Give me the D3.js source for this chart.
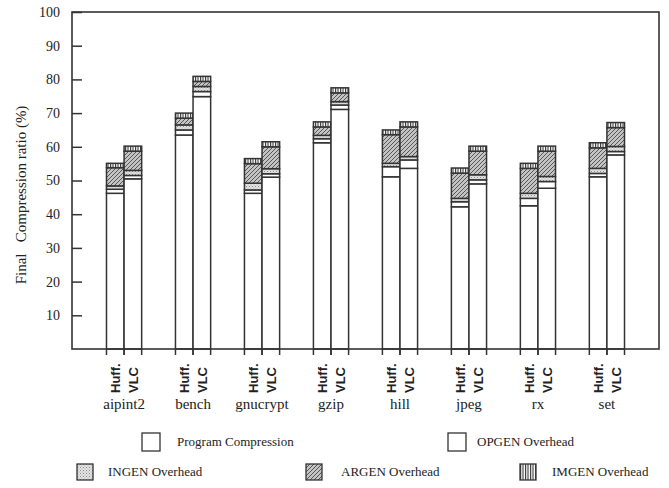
<!DOCTYPE html>
<html>
<head>
<meta charset="utf-8">
<script src="https://cdn.jsdelivr.net/npm/d3@7"></script>
<style>
  body { margin: 0; background: #fff; }
  svg { display: block; }
  text { font-family: "Liberation Serif", "DejaVu Serif", serif; fill: #222; }
</style>
</head>
<body>
<div id="chart"></div>
<script>
// benchmarks and encodings
var benchmarks = ['aipint2', 'bench', 'gnucrypt', 'gzip', 'hill', 'jpeg', 'rx', 'set'];
var encodings = ['Huff.', 'VLC'];

// segment values (%), one entry per benchmark, [Huff., VLC]
var program = [[46.2, 50.5], [63.5, 74.9], [46.2, 51.0], [61.2, 71.1], [51.1, 53.6], [42.2, 49.0], [42.5, 47.7], [51.1, 57.6]];
var opgen   = [[1.2, 1.0], [1.5, 1.5], [1.0, 1.0], [1.2, 1.3], [3.0, 2.5], [1.5, 1.2], [2.2, 2.0], [1.0, 1.0]];
var ingen   = [[1.0, 1.5], [1.5, 1.5], [2.0, 1.5], [1.0, 1.0], [1.0, 1.0], [1.0, 1.5], [1.5, 1.5], [1.5, 1.5]];
var argen   = [[5.4, 5.7], [2.0, 1.5], [5.8, 6.5], [2.5, 2.6], [8.5, 8.8], [7.5, 7.0], [7.4, 7.5], [6.1, 5.6]];
var imgen   = [[1.3, 1.5], [1.5, 1.5], [1.5, 1.5], [1.5, 1.5], [1.4, 1.5], [1.5, 1.5], [1.5, 1.5], [1.5, 1.5]];

var yTicks = [10, 20, 30, 40, 50, 60, 70, 80, 90, 100];
var segNames = ['Program Compression', 'OPGEN Overhead', 'INGEN Overhead', 'ARGEN Overhead', 'IMGEN Overhead'];
var segFills = ['#fff', '#fff', 'url(#ingen)', 'url(#argen)', 'url(#imgen)'];

var width = 669, height = 488;
var margin = {top: 12, right: 10, bottom: 139, left: 72};

var svg = d3.select('#chart').append('svg')
  .attr('width', width)
  .attr('height', height);

// patterns
var defs = svg.append('defs');
var p1 = defs.append('pattern').attr('id', 'ingen').attr('patternUnits', 'userSpaceOnUse')
  .attr('width', 3).attr('height', 3);
p1.append('rect').attr('width', 3).attr('height', 3).attr('fill', '#e4e4e4');
p1.append('rect').attr('width', 1).attr('height', 1).attr('fill', '#888');
p1.append('rect').attr('x', 1.5).attr('y', 1.5).attr('width', 1).attr('height', 1).attr('fill', '#aaa');

var p2 = defs.append('pattern').attr('id', 'argen').attr('patternUnits', 'userSpaceOnUse')
  .attr('width', 4).attr('height', 4);
p2.append('rect').attr('width', 4).attr('height', 4).attr('fill', '#c4c4c4');
p2.append('path').attr('d', 'M-1,1 L1,-1 M0,4 L4,0 M3,5 L5,3').attr('stroke', '#555').attr('stroke-width', 1);

var p3 = defs.append('pattern').attr('id', 'imgen').attr('patternUnits', 'userSpaceOnUse')
  .attr('width', 2.5).attr('height', 4);
p3.append('rect').attr('width', 2.5).attr('height', 4).attr('fill', '#fff');
p3.append('rect').attr('width', 1.1).attr('height', 4).attr('fill', '#333');

var x0 = d3.scaleBand()
  .domain(benchmarks)
  .range([margin.left, width - margin.right])
  .paddingInner(0.49)
  .paddingOuter(0.5);

var x1 = d3.scaleBand()
  .domain(encodings)
  .range([0, x0.bandwidth()]);

var y = d3.scaleLinear()
  .domain([0, 100])
  .range([height - margin.bottom, margin.top]);

// bars
var segs = [program, opgen, ingen, argen, imgen];
var rows = [];
benchmarks.forEach(function(b, i) {
  encodings.forEach(function(e, j) {
    var acc = 0;
    segs.forEach(function(s, k) {
      rows.push({b: b, e: e, k: k, y0: acc, y1: acc + s[i][j]});
      acc += s[i][j];
    });
  });
});

svg.append('g').selectAll('rect')
  .data(rows)
  .enter()
  .append('rect')
  .attr('x', function(d) { return x0(d.b) + x1(d.e); })
  .attr('y', function(d) { return y(d.y1); })
  .attr('width', x1.bandwidth())
  .attr('height', function(d) { return y(d.y0) - y(d.y1); })
  .attr('fill', function(d) { return segFills[d.k]; })
  .attr('stroke', '#333')
  .attr('stroke-width', 1.5);

// bar edges run a little below the baseline
var edges = [];
benchmarks.forEach(function(b) {
  encodings.forEach(function(e) {
    edges.push(x0(b) + x1(e));
    edges.push(x0(b) + x1(e) + x1.bandwidth());
  });
});
svg.append('g').selectAll('line')
  .data(edges)
  .enter()
  .append('line')
  .attr('x1', function(d) { return d; })
  .attr('x2', function(d) { return d; })
  .attr('y1', y(0))
  .attr('y2', y(0) + 6)
  .attr('stroke', '#333')
  .attr('stroke-width', 1.5);

// frame
svg.append('rect')
  .attr('x', margin.left)
  .attr('y', y(100))
  .attr('width', width - margin.right - margin.left)
  .attr('height', y(0) - y(100))
  .attr('fill', 'none')
  .attr('stroke', '#333')
  .attr('stroke-width', 1.6);

// y axis, ticks pointing inward
var yAxis = svg.append('g')
  .attr('transform', 'translate(' + margin.left + ',0)')
  .call(d3.axisRight(y).tickValues(yTicks).tickSize(10).tickFormat(''));
yAxis.select('.domain').remove();
yAxis.selectAll('line').attr('stroke', '#333').attr('stroke-width', 1.5);

svg.append('g').selectAll('text')
  .data(yTicks)
  .enter()
  .append('text')
  .attr('x', margin.left - 12)
  .attr('y', function(d) { return y(d); })
  .attr('dy', '0.35em')
  .attr('text-anchor', 'end')
  .style('font-size', '14px')
  .text(function(d) { return d; });

svg.append('text')
  .attr('transform', 'translate(26,195) rotate(-90)')
  .attr('text-anchor', 'middle')
  .style('font-size', '15px')
  .style('white-space', 'pre')
  .text('Final   Compression ratio (%)');

// x labels
benchmarks.forEach(function(b) {
  encodings.forEach(function(e) {
    svg.append('text')
      .attr('transform', 'translate(' + (x0(b) + x1(e) + x1.bandwidth() / 2 + 5) + ',' + (y(0) + 44) + ') rotate(-90)')
      .style('font-family', '"Liberation Sans", Arial, sans-serif')
      .style('font-weight', 'bold')
      .style('font-size', '13px')
      .text(e);
  });
  svg.append('text')
    .attr('x', x0(b) + x0.bandwidth() / 2)
    .attr('y', y(0) + 60)
    .attr('text-anchor', 'middle')
    .style('font-size', '15px')
    .text(b);
});

// legend
var legendPos = [[142, 433], [448, 433], [77, 464], [306, 464], [520, 464]];
var legend = svg.append('g').selectAll('g')
  .data(segNames)
  .enter()
  .append('g')
  .attr('transform', function(d, i) { return 'translate(' + legendPos[i][0] + ',' + legendPos[i][1] + ')'; });

legend.append('rect')
  .attr('width', function(d, i) { return i < 2 ? 18 : 16; })
  .attr('height', function(d, i) { return i < 2 ? 18 : 16; })
  .attr('fill', function(d, i) { return segFills[i]; })
  .attr('stroke', '#333')
  .attr('stroke-width', 1.3);

legend.append('text')
  .attr('x', function(d, i) { return [35, 29, 31, 35, 32][i]; })
  .attr('y', function(d, i) { return i < 2 ? 13 : 12; })
  .style('font-size', '13px')
  .text(function(d) { return d; });
</script>
</body>
</html>
